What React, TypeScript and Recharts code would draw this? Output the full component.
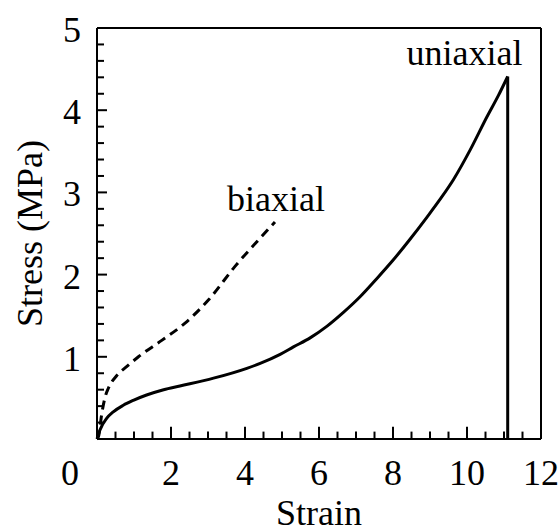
import { Label, Line, LineChart, ReferenceDot, ReferenceLine, XAxis, YAxis } from 'recharts';

const uniaxial = [
  { x: 0, y: 0 },
  { x: 0.08, y: 0.11 },
  { x: 0.26, y: 0.25 },
  { x: 0.44, y: 0.33 },
  { x: 0.71, y: 0.41 },
  { x: 0.98, y: 0.47 },
  { x: 1.34, y: 0.535 },
  { x: 1.8, y: 0.6 },
  { x: 2.24, y: 0.645 },
  { x: 3.15, y: 0.74 },
  { x: 4.05, y: 0.86 },
  { x: 4.41, y: 0.92 },
  { x: 4.95, y: 1.03 },
  { x: 5.31, y: 1.12 },
  { x: 5.76, y: 1.23 },
  { x: 6.21, y: 1.37 },
  { x: 6.66, y: 1.54 },
  { x: 7.11, y: 1.73 },
  { x: 7.56, y: 1.95 },
  { x: 8.01, y: 2.18 },
  { x: 8.46, y: 2.43 },
  { x: 8.92, y: 2.7 },
  { x: 9.28, y: 2.92 },
  { x: 9.64, y: 3.16 },
  { x: 10.09, y: 3.52 },
  { x: 10.54, y: 3.92 },
  { x: 10.85, y: 4.18 },
  { x: 11.1, y: 4.41 },
];

// failure: stress drops straight to zero
const uniaxialDrop = [
  { x: 11.1, y: 4.41 },
  { x: 11.1, y: 0 },
];

const biaxial = [
  { x: 0, y: 0 },
  { x: 0.04, y: 0.03 },
  { x: 0.13, y: 0.31 },
  { x: 0.22, y: 0.51 },
  { x: 0.31, y: 0.62 },
  { x: 0.53, y: 0.77 },
  { x: 0.8, y: 0.88 },
  { x: 1.12, y: 1.0 },
  { x: 1.75, y: 1.2 },
  { x: 2.38, y: 1.41 },
  { x: 3.01, y: 1.69 },
  { x: 3.73, y: 2.1 },
  { x: 4.36, y: 2.42 },
  { x: 4.81, y: 2.64 },
];

const xTicks = [0, 0.5, 1, 1.5, 2, 2.5, 3, 3.5, 4, 4.5, 5, 5.5, 6, 6.5, 7, 7.5, 8, 8.5, 9, 9.5, 10, 10.5, 11, 11.5, 12];
const yTicks = [0, 0.2, 0.4, 0.6, 0.8, 1, 1.2, 1.4, 1.6, 1.8, 2, 2.2, 2.4, 2.6, 2.8, 3, 3.2, 3.4, 3.6, 3.8, 4, 4.2, 4.4, 4.6, 4.8, 5];

const curveLabels = [
  { text: 'biaxial', x: 4.84, y: 2.77 },
  { text: 'uniaxial', x: 9.93, y: 4.55 },
];

const FONT = '"Liberation Serif", "Times New Roman", serif';
const FS = 36;

// inward tick lengths, in axis units (x ticks measured in stress, y ticks in strain)
const X_TICK_MAJOR = 0.15;
const X_TICK_MINOR = 0.09;
const Y_TICK_MAJOR = 0.27;
const Y_TICK_MINOR = 0.19;

const isInt = (v: number) => Math.abs(v - Math.round(v)) < 1e-6;
const isXMajor = (v: number) => isInt(v) && Math.round(v) % 2 === 0;

function XTick(props: any) {
  const { x, y, payload } = props;
  const v = payload.value;
  if (!isXMajor(v)) return <g />;
  return (
    <text x={v === 0 ? x - 27 : x} y={y + 46} textAnchor="middle" fontSize={FS} fontFamily={FONT} fill="#000">
      {v}
    </text>
  );
}

function YTick(props: any) {
  const { x, y, payload } = props;
  const v = payload.value;
  if (!isInt(v) || v <= 0) return <g />;
  return (
    <text x={x - 16} y={y + 14} textAnchor="end" fontSize={FS} fontFamily={FONT} fill="#000">
      {Math.round(v)}
    </text>
  );
}

export default function App() {
  return (
    <div style={{ position: 'absolute', left: 0, top: 0, background: '#fff' }}>
      <LineChart width={560} height={531} margin={{ top: 28, right: 19, left: 0, bottom: 0 }}>
        <XAxis
          dataKey="x"
          type="number"
          domain={[0, 12]}
          ticks={xTicks}
          interval={0}
          height={92}
          tickSize={0}
          tickMargin={0}
          tickLine={false}
          tick={(p: any) => <XTick {...p} />}
          axisLine={{ stroke: '#000', strokeWidth: 2 }}
        >
          <Label
            content={({ viewBox }: any) => (
              <text
                x={viewBox.x + viewBox.width / 2}
                y={viewBox.y + viewBox.height - 6}
                textAnchor="middle"
                fontSize={FS}
                fontFamily={FONT}
                fill="#000"
              >
                Strain
              </text>
            )}
          />
        </XAxis>
        <YAxis
          dataKey="y"
          type="number"
          domain={[0, 5]}
          ticks={yTicks}
          interval={0}
          width={97}
          tickSize={0}
          tickMargin={0}
          tickLine={false}
          tick={(p: any) => <YTick {...p} />}
          axisLine={{ stroke: '#000', strokeWidth: 2 }}
        >
          <Label
            content={({ viewBox }: any) => {
              const cx = 30;
              const cy = viewBox.y + viewBox.height / 2;
              return (
                <text
                  x={cx}
                  y={cy}
                  transform={`rotate(-90, ${cx}, ${cy})`}
                  textAnchor="middle"
                  dominantBaseline="central"
                  fontSize={FS}
                  fontFamily={FONT}
                  fill="#000"
                >
                  Stress (MPa)
                </text>
              );
            }}
          />
        </YAxis>
        <ReferenceLine y={5} stroke="#000" strokeWidth={2} />
        <ReferenceLine x={12} stroke="#000" strokeWidth={2} />
        {xTicks.map((t) => (
          <ReferenceLine
            key={`xt${t}`}
            segment={[
              { x: t, y: 0 },
              { x: t, y: isXMajor(t) ? X_TICK_MAJOR : X_TICK_MINOR },
            ]}
            stroke="#000"
            strokeWidth={2}
          />
        ))}
        {yTicks.map((t) => (
          <ReferenceLine
            key={`yt${t}`}
            segment={[
              { x: 0, y: t },
              { x: isInt(t) ? Y_TICK_MAJOR : Y_TICK_MINOR, y: t },
            ]}
            stroke="#000"
            strokeWidth={2}
          />
        ))}
        <Line
          data={uniaxial}
          dataKey="y"
          type="monotone"
          stroke="#000"
          strokeWidth={3}
          dot={false}
          isAnimationActive={false}
        />
        <Line
          data={uniaxialDrop}
          dataKey="y"
          type="linear"
          stroke="#000"
          strokeWidth={3}
          dot={false}
          isAnimationActive={false}
        />
        <Line
          data={biaxial}
          dataKey="y"
          type="monotone"
          stroke="#000"
          strokeWidth={3}
          strokeDasharray="9 6"
          dot={false}
          isAnimationActive={false}
        />
        {curveLabels.map((l) => (
          <ReferenceDot
            key={l.text}
            x={l.x}
            y={l.y}
            r={0}
            shape={(p: any) => (
              <text x={p.cx} y={p.cy} textAnchor="middle" fontSize={FS} fontFamily={FONT} fill="#000">
                {l.text}
              </text>
            )}
          />
        ))}
      </LineChart>
    </div>
  );
}
